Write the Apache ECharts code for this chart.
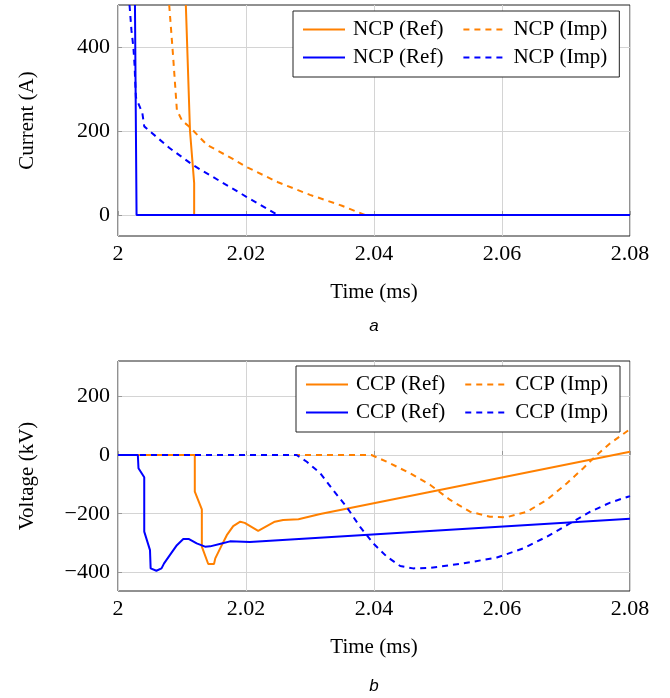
<!DOCTYPE html>
<html>
<head>
<meta charset="utf-8">
<script src="https://cdn.jsdelivr.net/npm/echarts@6/dist/echarts.min.js"></script>
<style>
  html, body { margin: 0; padding: 0; background: #fff; }
  #chart { width: 670px; height: 698px; }
</style>
</head>
<body>
<div id="chart"></div>
<script>
// ---- tick values ----
const timeTicks = [2, 2.02, 2.04, 2.06, 2.08];
const currentTicks = [0, 200, 400];
const voltageTicks = [-400, -200, 0, 200];

// ---- (a) current, [time ms, current A] ----
const ncpRefOrange = [[2.0106, 500], [2.01125, 200], [2.0119, 76], [2.0119, 0], [2.08, 0]];
const ncpImpOrange = [[2.0080, 500], [2.0086, 380], [2.0092, 250], [2.0100, 225], [2.0113, 208],
  [2.0139, 167], [2.0180, 133], [2.0200, 115], [2.0250, 78], [2.0300, 48], [2.0350, 22],
  [2.0386, 0], [2.08, 0]];
const ncpRefBlue = [[2.00265, 500], [2.0029, 0], [2.08, 0]];
const ncpImpBlue = [[2.0018, 500], [2.0021, 440], [2.0024, 400], [2.0026, 354], [2.00268, 320],
  [2.0028, 280], [2.0038, 243], [2.0041, 211], [2.0080, 160], [2.0118, 118], [2.0160, 80],
  [2.0200, 44], [2.0250, 0], [2.08, 0]];

// ---- (b) voltage, [time ms, voltage kV] ----
const ccpRefOrange = [[2, 0], [2.012, 0], [2.012, -125], [2.0131, -185], [2.0131, -312],
  [2.0141, -371], [2.0150, -371], [2.0152, -352], [2.0161, -312], [2.0170, -273],
  [2.0180, -242], [2.0191, -227], [2.0198, -231], [2.0219, -258], [2.0245, -227],
  [2.0258, -221], [2.0282, -219], [2.0316, -201], [2.08, 11]];
const ccpImpOrange = [[2, 0], [2.0396, 0], [2.0425, -28], [2.0456, -62], [2.0488, -102],
  [2.0519, -153], [2.0550, -193], [2.0581, -210], [2.0607, -212], [2.0639, -193],
  [2.0670, -153], [2.0701, -97], [2.0727, -45], [2.0748, 0], [2.0769, 40], [2.08, 88]];
const ccpRefBlue = [[2, 0], [2.0031, 0], [2.0032, -45], [2.0041, -76], [2.0041, -261],
  [2.0050, -324], [2.0051, -386], [2.0060, -394], [2.0068, -386], [2.0072, -369],
  [2.0081, -341], [2.0092, -307], [2.0102, -286], [2.0111, -286], [2.0123, -301],
  [2.0136, -312], [2.0144, -311], [2.0162, -301], [2.0175, -294], [2.0206, -296],
  [2.08, -217]];
const ccpImpBlue = [[2, 0], [2.0279, 0], [2.0295, -23], [2.0316, -62], [2.0336, -119],
  [2.0357, -176], [2.0378, -244], [2.0399, -301], [2.0420, -346], [2.0441, -378],
  [2.0461, -386], [2.0488, -384], [2.0540, -369], [2.0592, -349], [2.0633, -318],
  [2.0670, -278], [2.0706, -233], [2.0738, -193], [2.0769, -162], [2.0797, -142],
  [2.08, -140]];

const ORANGE = '#ff8000';
const BLUE = '#0000ff';
const SERIF = '"Liberation Serif", "Times New Roman", serif';
const DASH = [6, 5];

function xAxis(gi) {
  return {
    type: 'value', gridIndex: gi, min: 2, max: 2.08,
    axisLine: { show: false },
    axisTick: { show: true, inside: true, length: 4, customValues: timeTicks, lineStyle: { color: '#999' } },
    axisLabel: { customValues: timeTicks, margin: 7, color: '#000', fontFamily: SERIF, fontSize: 22,
      formatter: v => String(Number(v.toFixed(2))) },
    splitLine: { show: true, lineStyle: { color: '#d4d4d4', width: 1 } },
    name: 'Time (ms)', nameLocation: 'middle', nameGap: 46,
    nameTextStyle: { color: '#000', fontFamily: SERIF, fontSize: 21 }
  };
}
function yAxis(gi, min, max, ticks, name) {
  return {
    type: 'value', gridIndex: gi, min: min, max: max,
    axisLine: { show: false },
    axisTick: { show: true, inside: true, length: 4, customValues: ticks, lineStyle: { color: '#999' } },
    axisLabel: { customValues: ticks, margin: 8, color: '#000', fontFamily: SERIF, fontSize: 22,
      formatter: v => String(v).replace('-', '\u2212') },
    splitLine: { show: true, lineStyle: { color: '#d4d4d4', width: 1 } },
    name: name, nameLocation: 'middle', nameRotate: 90, nameGap: 80,
    nameTextStyle: { color: '#000', fontFamily: SERIF, fontSize: 21 }
  };
}
function line(name, data, color, dashed, gi) {
  return {
    type: 'line', name: name, data: data, xAxisIndex: gi, yAxisIndex: gi,
    showSymbol: false, symbol: 'none', clip: true,
    lineStyle: { color: color, width: 2, type: dashed ? DASH : 'solid' },
    itemStyle: { color: color }
  };
}
function legend(names, left, top) {
  return {
    data: names, left: left, top: top, width: 330, orient: 'horizontal',
    padding: [8, 0, 9, 9], itemGap: 7, itemWidth: 42, itemHeight: 14,
    borderColor: '#222', borderWidth: 1, backgroundColor: '#fff',
    itemStyle: { opacity: 0, borderWidth: 0 },
    formatter: n => n.split('#')[0],
    textStyle: { fontFamily: SERIF, fontSize: 21, color: '#000', lineHeight: 21, padding: [0, 12, 0, 3] }
  };
}

const chart = echarts.init(document.getElementById('chart'), null, { renderer: 'canvas' });
chart.setOption({
  animation: false,
  backgroundColor: '#fff',
  grid: [
    { left: 118, top: 5, width: 512, height: 231, show: true, borderColor: '#222', borderWidth: 1, backgroundColor: 'transparent' },
    { left: 118, top: 361, width: 512, height: 230, show: true, borderColor: '#222', borderWidth: 1, backgroundColor: 'transparent' }
  ],
  xAxis: [xAxis(0), xAxis(1)],
  yAxis: [yAxis(0, -50, 500, currentTicks, 'Current (A)'), yAxis(1, -463, 320, voltageTicks, 'Voltage (kV)')],
  legend: [
    legend(['NCP (Ref)#o', 'NCP (Imp)#o', 'NCP (Ref)#b', 'NCP (Imp)#b'], 293, 11),
    legend(['CCP (Ref)#o', 'CCP (Imp)#o', 'CCP (Ref)#b', 'CCP (Imp)#b'], 296, 366)
  ],
  series: [
    line('NCP (Ref)#o', ncpRefOrange, ORANGE, false, 0),
    line('NCP (Imp)#o', ncpImpOrange, ORANGE, true, 0),
    line('NCP (Ref)#b', ncpRefBlue, BLUE, false, 0),
    line('NCP (Imp)#b', ncpImpBlue, BLUE, true, 0),
    line('CCP (Ref)#o', ccpRefOrange, ORANGE, false, 1),
    line('CCP (Imp)#o', ccpImpOrange, ORANGE, true, 1),
    line('CCP (Ref)#b', ccpRefBlue, BLUE, false, 1),
    line('CCP (Imp)#b', ccpImpBlue, BLUE, true, 1)
  ],
  graphic: [
    { type: 'text', style: { text: 'a', x: 374, y: 326, align: 'center', verticalAlign: 'middle', font: 'italic 17px "Liberation Sans", Arial, sans-serif', fill: '#000' } },
    { type: 'text', style: { text: 'b', x: 374, y: 686, align: 'center', verticalAlign: 'middle', font: 'italic 17px "Liberation Sans", Arial, sans-serif', fill: '#000' } }
  ]
});
</script>
</body>
</html>
